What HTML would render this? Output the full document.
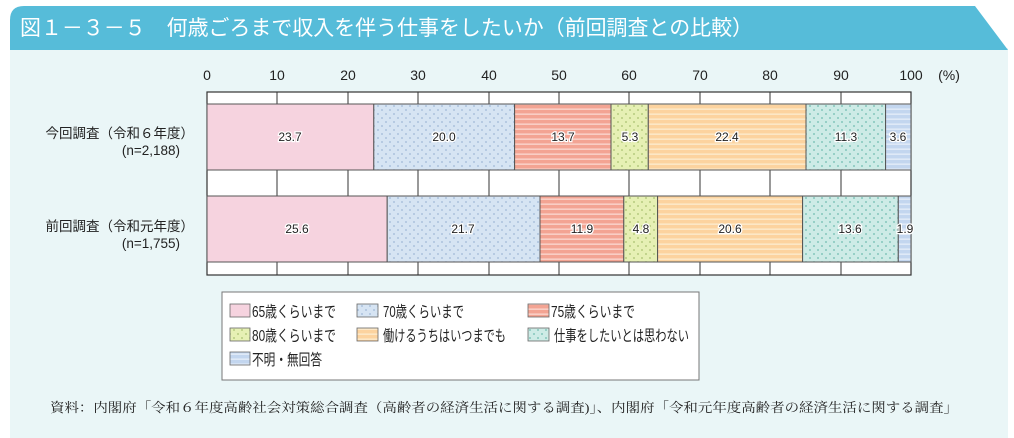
<!DOCTYPE html>
<html><head><meta charset="utf-8"><style>
body{margin:0;width:1014px;height:438px;background:#fff;overflow:hidden}
svg{display:block;font-family:"Liberation Sans","Noto Sans CJK JP",sans-serif}
</style></head><body>
<svg width="1014" height="438" viewBox="0 0 1014 438">
<defs>
<pattern id="dotB" width="8" height="8" patternUnits="userSpaceOnUse"><rect width="8" height="8" fill="#d6e4f3"/><circle cx="2" cy="2" r="0.9" fill="#9fb8d6"/><circle cx="6" cy="6" r="0.9" fill="#9fb8d6"/></pattern>
<pattern id="dotY" width="8" height="8" patternUnits="userSpaceOnUse"><rect width="8" height="8" fill="#e6f0b4"/><circle cx="2" cy="2" r="0.9" fill="#a8c070"/><circle cx="6" cy="6" r="0.9" fill="#a8c070"/></pattern>
<pattern id="dotT" width="8" height="8" patternUnits="userSpaceOnUse"><rect width="8" height="8" fill="#cdebe6"/><circle cx="2" cy="2" r="0.9" fill="#6fbcb0"/><circle cx="6" cy="6" r="0.9" fill="#6fbcb0"/></pattern>
<pattern id="strS" width="6" height="5" patternUnits="userSpaceOnUse"><rect width="6" height="5" fill="#f3a493"/><rect y="3.5" width="6" height="1.3" fill="#fbd9d0"/></pattern>
<pattern id="strO" width="6" height="5" patternUnits="userSpaceOnUse"><rect width="6" height="5" fill="#fcd39f"/><rect y="3.5" width="6" height="1.3" fill="#fdeccf"/></pattern>
<pattern id="strB" width="6" height="5" patternUnits="userSpaceOnUse"><rect width="6" height="5" fill="#c3d6ef"/><rect y="3.5" width="6" height="1.3" fill="#e6eef9"/></pattern>
</defs>
<rect x="10" y="48" width="998" height="390" fill="#eaf6f7"/>
<path d="M10 48 V20 Q10 6 24 6 H975 L1008 50 H10Z" fill="#56bcd9"/>
<text x="20" y="35" fill="#fff" font-size="21" textLength="733" lengthAdjust="spacingAndGlyphs">図１－３－５　何歳ごろまで収入を伴う仕事をしたいか（前回調査との比較）</text>
<g font-size="14" fill="#222" text-anchor="middle">
<text x="207" y="80">0</text><text x="277" y="80">10</text><text x="348" y="80">20</text><text x="418" y="80">30</text><text x="489" y="80">40</text><text x="559" y="80">50</text><text x="629" y="80">60</text><text x="700" y="80">70</text><text x="770" y="80">80</text><text x="841" y="80">90</text><text x="911" y="80">100</text><text x="949" y="80">(%)</text>
</g>
<rect x="207" y="92" width="704" height="183" fill="#fff" stroke="#333" stroke-width="1.2"/>
<g stroke="#333" stroke-width="1">
<path d="M277 92V275M348 92V275M418 92V275M489 92V275M559 92V275M629 92V275M700 92V275M770 92V275M841 92V275"/>
</g>
<g stroke="#555" stroke-width="1">
<rect x="207" y="104" width="166.8" height="66" fill="#f6d3df"/>
<rect x="373.8" y="104" width="140.8" height="66" fill="url(#dotB)"/>
<rect x="514.6" y="104" width="96.4" height="66" fill="url(#strS)"/>
<rect x="611" y="104" width="37.3" height="66" fill="url(#dotY)"/>
<rect x="648.3" y="104" width="157.7" height="66" fill="url(#strO)"/>
<rect x="806" y="104" width="79.6" height="66" fill="url(#dotT)"/>
<rect x="885.6" y="104" width="25.4" height="66" fill="url(#strB)"/>
<rect x="207" y="196" width="180.2" height="66" fill="#f6d3df"/>
<rect x="387.2" y="196" width="152.8" height="66" fill="url(#dotB)"/>
<rect x="540" y="196" width="83.8" height="66" fill="url(#strS)"/>
<rect x="623.8" y="196" width="33.8" height="66" fill="url(#dotY)"/>
<rect x="657.6" y="196" width="145" height="66" fill="url(#strO)"/>
<rect x="802.6" y="196" width="95.7" height="66" fill="url(#dotT)"/>
<rect x="898.3" y="196" width="12.7" height="66" fill="url(#strB)"/>
</g>
<g font-size="12" fill="#222" text-anchor="middle" stroke="#fff" stroke-width="2.5" paint-order="stroke">
<text x="290" y="141">23.7</text><text x="444" y="141">20.0</text><text x="563" y="141">13.7</text><text x="630" y="141">5.3</text><text x="727" y="141">22.4</text><text x="846" y="141">11.3</text><text x="898" y="141">3.6</text>
<text x="297" y="233">25.6</text><text x="463" y="233">21.7</text><text x="582" y="233">11.9</text><text x="641" y="233">4.8</text><text x="730" y="233">20.6</text><text x="850" y="233">13.6</text><text x="905" y="233">1.9</text>
</g>
<g font-size="13.5" fill="#222" text-anchor="end">
<text x="194" y="138">今回調査（令和６年度）</text><text x="180" y="155">(n=2,188)</text>
<text x="194" y="231">前回調査（令和元年度）</text><text x="180" y="248">(n=1,755)</text>
</g>
<rect x="222" y="292" width="477" height="88" fill="#fff" stroke="#777"/>
<g stroke="#666" stroke-width="0.8">
<rect x="230" y="304" width="20" height="13" fill="#f6d3df"/>
<rect x="357" y="304" width="21" height="13" fill="url(#dotB)"/>
<rect x="528" y="304" width="21" height="13" fill="url(#strS)"/>
<rect x="230" y="328" width="20" height="13" fill="url(#dotY)"/>
<rect x="357" y="328" width="21" height="13" fill="url(#strO)"/>
<rect x="528" y="328" width="21" height="13" fill="url(#dotT)"/>
<rect x="230" y="352" width="20" height="13" fill="url(#strB)"/>
</g>
<g font-size="15.5" fill="#222">
<text x="252" y="317" textLength="84" lengthAdjust="spacingAndGlyphs">65歳くらいまで</text><text x="383" y="317" textLength="81" lengthAdjust="spacingAndGlyphs">70歳くらいまで</text><text x="551" y="317" textLength="84" lengthAdjust="spacingAndGlyphs">75歳くらいまで</text>
<text x="252" y="341" textLength="84" lengthAdjust="spacingAndGlyphs">80歳くらいまで</text><text x="383" y="341" textLength="123" lengthAdjust="spacingAndGlyphs">働けるうちはいつまでも</text><text x="554" y="341" textLength="135" lengthAdjust="spacingAndGlyphs">仕事をしたいとは思わない</text>
<text x="252" y="365" textLength="70" lengthAdjust="spacingAndGlyphs">不明・無回答</text>
</g>
<text x="50" y="412" font-size="13" fill="#222" textLength="908" lengthAdjust="spacingAndGlyphs" font-family="'Liberation Serif','Noto Serif CJK SC',serif">資料：内閣府「令和６年度高齢社会対策総合調査（高齢者の経済生活に関する調査)」、内閣府「令和元年度高齢者の経済生活に関する調査」</text>
</svg>
</body></html>
